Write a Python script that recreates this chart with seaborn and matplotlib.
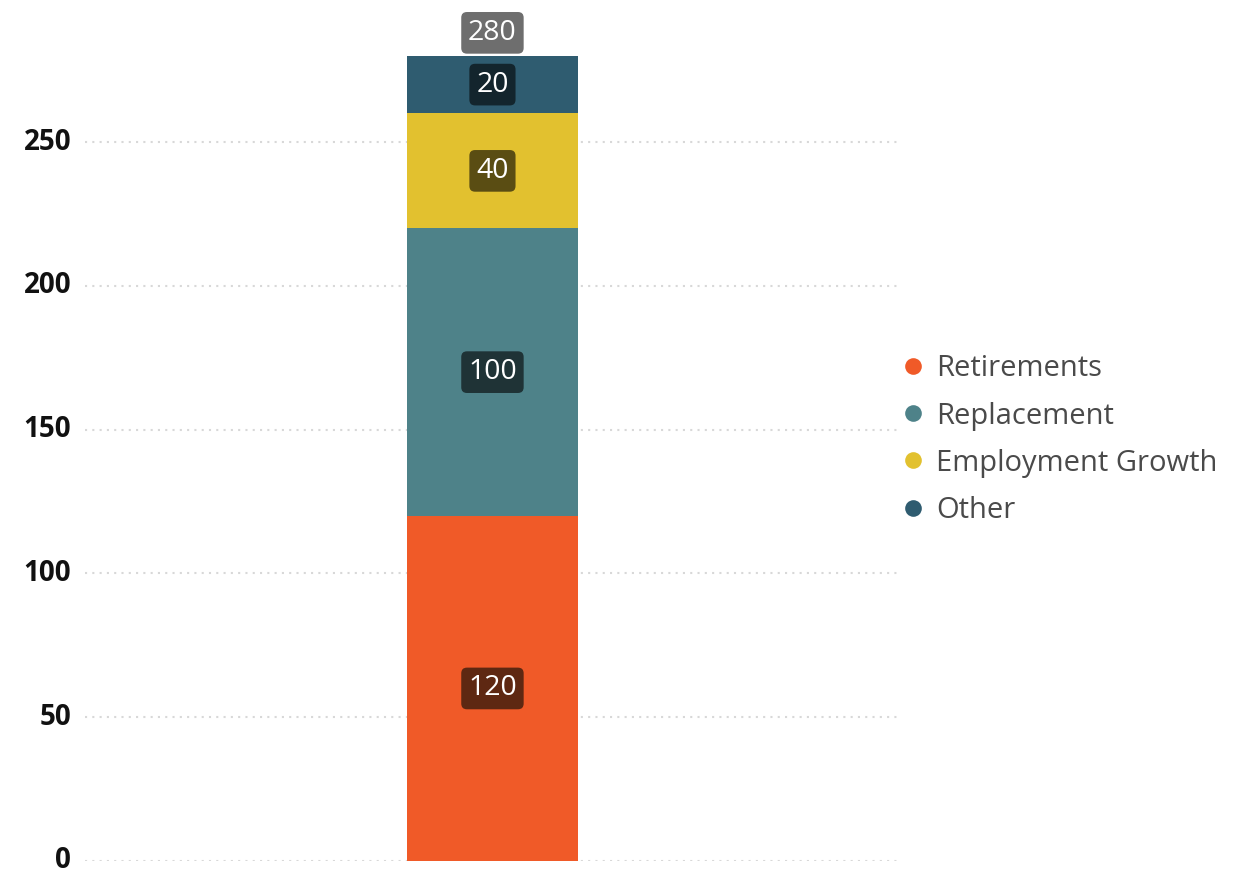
import matplotlib
matplotlib.use("Agg")
import matplotlib.pyplot as plt
from matplotlib.lines import Line2D
import seaborn as sns
import numpy as np

categories = ["Retirements", "Replacement", "Employment Growth", "Other"]
values = [120, 100, 40, 20]
colors = ["#F05A28", "#4E8289", "#E2C12F", "#2F5C70"]
label_boxes = ["#5E2812", "#1F3336", "#5A4D13", "#13252D"]
yticks = [0, 50, 100, 150, 200, 250]
group = "Total"

sns.set_theme(style="white")
plt.rcParams["font.family"] = ["Open Sans", "DejaVu Sans"]

fig = plt.figure(figsize=(12.42, 8.74), dpi=100)
ax = fig.add_axes([0.0684, 0.0149, 0.6562, 0.987])

cum = np.cumsum(values)
bottoms = cum - np.array(values)

# stacked column: draw cumulative heights from the top segment down
for i in reversed(range(len(values))):
    sns.barplot(x=[group], y=[cum[i]], color=colors[i], width=0.21,
                saturation=1, ax=ax, zorder=3, edgecolor="none", linewidth=0)

for i, v in enumerate(values):
    ax.text(0, bottoms[i] + v / 2, f"{v}", ha="center", va="center",
            fontsize=20.5, color="white", zorder=5,
            bbox=dict(boxstyle="round,pad=0.24,rounding_size=0.2",
                      fc=label_boxes[i], ec="none"))

total = cum[-1]
ax.text(0, total + 8, f"{total}", ha="center", va="center", fontsize=20.5,
        color="white", zorder=5,
        bbox=dict(boxstyle="round,pad=0.24,rounding_size=0.2",
                  fc="#6E6E6E", ec="none"))

ax.set_xlim(-0.5, 0.5)
ax.set_ylim(0, 300)
ax.set_yticks(yticks)
ax.set_yticklabels([str(t) for t in yticks], fontsize=20, fontweight="bold",
                   color="#111111", va="center")
ax.set_xticks([])
ax.set_xlabel("")
ax.set_ylabel("")
ax.tick_params(axis="y", length=0, pad=10)
for s in ax.spines.values():
    s.set_visible(False)
ax.yaxis.grid(True, linestyle=(0, (1, 2.5)), color="#D8D8D8", linewidth=1.5)
ax.set_axisbelow(True)

handles = [Line2D([0], [0], marker="o", linestyle="none", markersize=12,
                  markerfacecolor=c, markeredgecolor="none") for c in colors]
fig.legend(handles, categories, loc="center left",
           bbox_to_anchor=(0.700, 0.497), frameon=False, fontsize=21,
           labelcolor="#4A4A4A", handletextpad=0.2, labelspacing=0.62,
           handlelength=1.2)

fig.savefig("out.png", dpi=100)
